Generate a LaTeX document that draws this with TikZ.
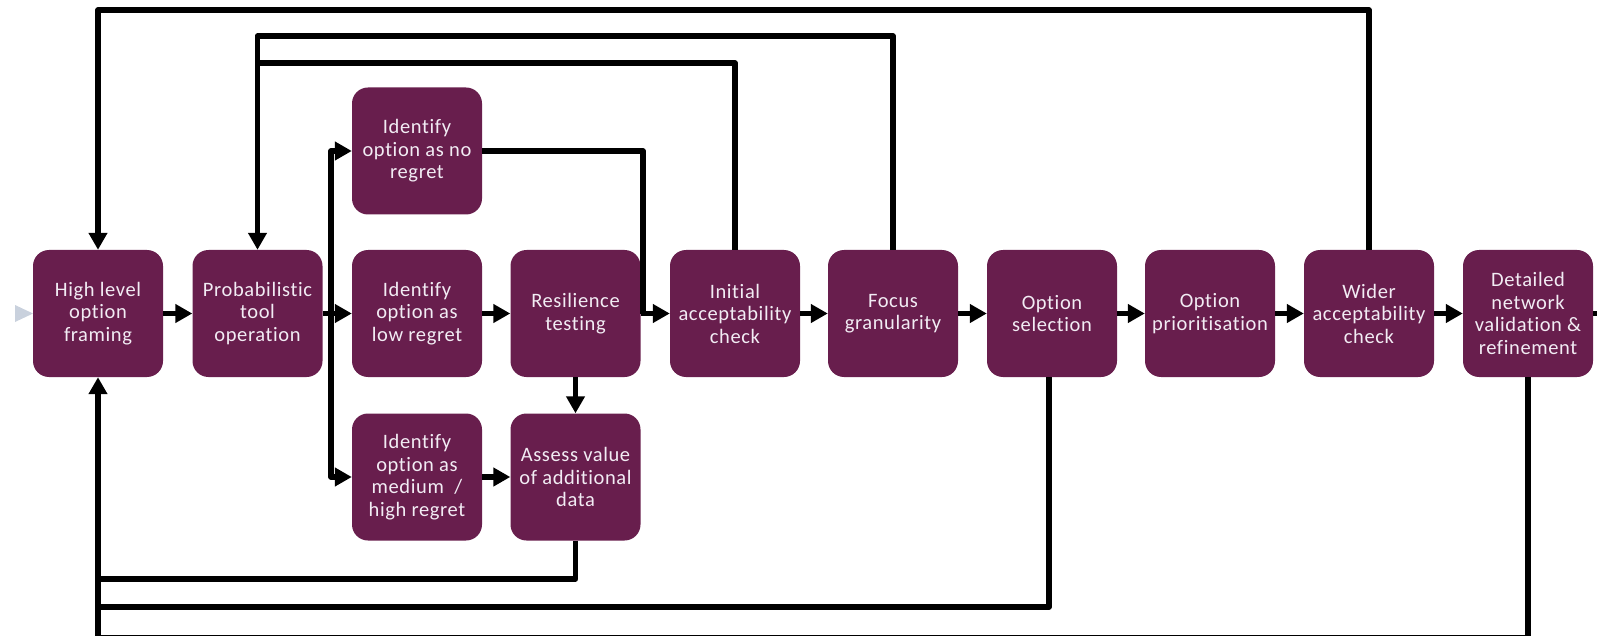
\documentclass[tikz,border=0pt]{standalone}
\usepackage{fontspec}
\setmainfont{Carlito}[Ligatures=NoCommon, LetterSpace=3]
\usetikzlibrary{arrows.meta}
\definecolor{boxfill}{HTML}{681E4D}
\definecolor{boxtext}{HTML}{F2ECF4}
\definecolor{entry}{HTML}{C9D1DD}
\begin{document}
\begin{tikzpicture}[x=1pt,y=-1pt,
  stage/.style={draw=none, fill=boxfill, rounded corners=16pt,
    minimum width=130pt, minimum height=127pt, inner sep=0pt,
    text=boxtext, align=center, font=\fontsize{20.5}{22.5}\selectfont},
  link/.style={line width=5.5pt, line join=round},
  flow/.style={link, -{Triangle[length=17pt,width=18pt]}}
]
\useasboundingbox (0,0) rectangle (1597,636);
\clip (0,0) rectangle (1597,636);

% process stages
\node[stage] (hl) at (98,313.5)    {High level\\option\\framing};
\node[stage] (pt) at (257.5,313.5) {Probabilistic\\tool\\operation};
\node[stage] (nr) at (417,151)     {Identify\\option as no\\regret};
\node[stage] (lr) at (417,313.5)   {Identify\\option as\\low regret};
\node[stage] (mr) at (417,477)     {Identify\\option as\\medium~~/\\high regret};
\node[stage] (rt) at (575.5,313.5) {Resilience\\testing};
\node[stage] (av) at (575.5,477)   {Assess value\\of additional\\data};
\node[stage] (ia) at (735,313.5)   {Initial\\acceptability\\check};
\node[stage] (fg) at (893,313.5)   {Focus\\granularity};
\node[stage] (os) at (1052,313.5)  {Option\\selection};
\node[stage] (op) at (1210,313.5)  {Option\\prioritisation};
\node[stage] (wa) at (1369,313.5)  {Wider\\acceptability\\check};
\node[stage] (dn) at (1528,313.5)  {Detailed\\network\\validation \&\\refinement};

% routing points
\coordinate (split) at (331,313.5);
\coordinate (merge) at (643,313.5);
\coordinate (exit)  at (1640,313.5);
\coordinate (r1) at (0,10);
\coordinate (r2) at (0,36);
\coordinate (r3) at (0,63);
\coordinate (b1) at (0,579);
\coordinate (b2) at (0,607);
\coordinate (b3) at (0,638);

% incoming marker
\fill[entry] (15,305) -- (33,313.5) -- (15,322) -- cycle;

% main sequence
\draw[flow] (hl) -- (pt);
\draw[flow] (pt) -- (lr);
\draw[flow] (split) |- (nr.west);
\draw[flow] (split) |- (mr.west);
\draw[flow] (lr) -- (rt);
\draw[flow] (rt) -- (ia);
\draw[link] (nr.east) -| (merge);
\draw[flow] (rt) -- (av);
\draw[flow] (mr) -- (av);
\draw[flow] (ia) -- (fg);
\draw[flow] (fg) -- (os);
\draw[flow] (os) -- (op);
\draw[flow] (op) -- (wa);
\draw[flow] (wa) -- (dn);
\draw[flow] (dn) -- (exit);

% feedback loops above
\draw[flow] (wa.north) |- (r1 -| hl.north) -- (hl.north);
\draw[flow] (fg.north) |- (r2 -| pt.north) -- (pt.north);
\draw[link] (ia.north) |- (r3 -| pt.north);

% feedback loops below
\draw[link] (av.south) |- (b1 -| hl.south);
\draw[link] ([xshift=-3pt]os.south) |- (b2 -| hl.south);
\draw[flow] (dn.south) |- (b3 -| hl.south) -- (hl.south);
\end{tikzpicture}
\end{document}
